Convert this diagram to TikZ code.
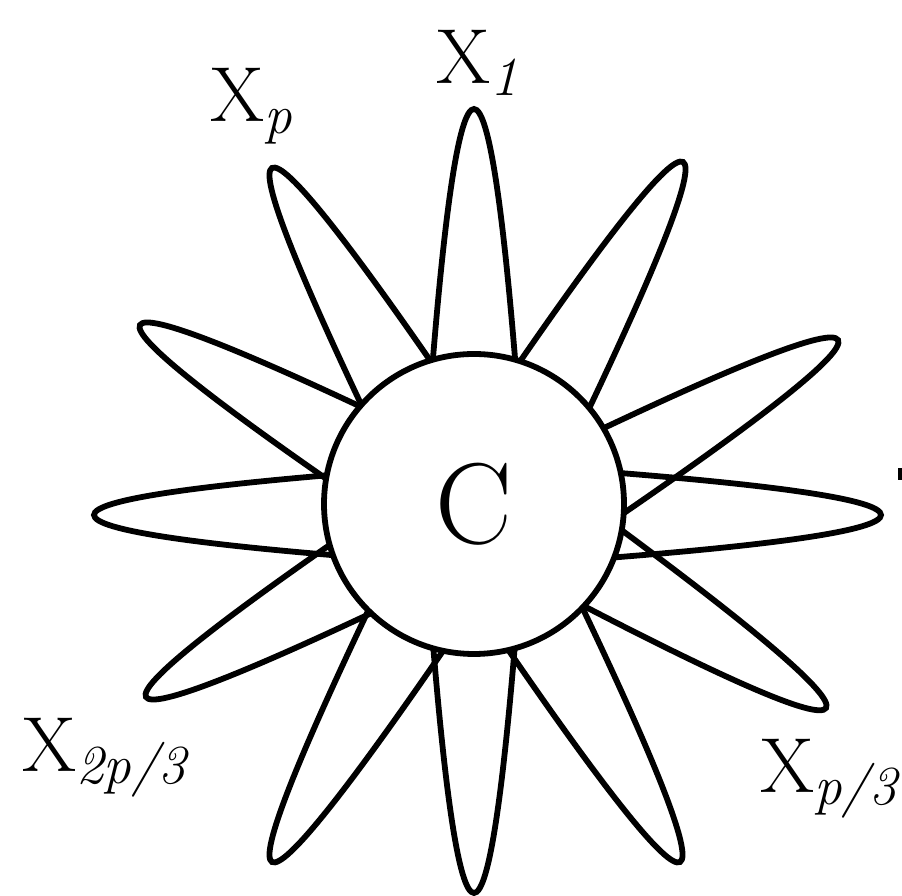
\documentclass[tikz,border=0pt]{standalone}
\usepackage{amsmath}
\usepackage{xcolor}
\usepackage{tikz}

\newcommand{\lsub}[1]{\raisebox{-12pt}{\fontsize{55}{60}\selectfont\itshape #1}}
\tikzset{
  petal/.style={line width=5.8pt},
  lab/.style={inner sep=0pt,anchor=base west,font=\fontsize{78}{86}\selectfont},
}

\begin{document}
\begin{tikzpicture}[x=1pt,y=1pt]
      \useasboundingbox (0,0) rectangle (902,896);
      % petals: angle / tip x / tip y
      \foreach \a/\tx/\ty in {90/474/787,60/683/734,30/838/556,0/881/381,-32/826/188,-60/680/34,
                              -90/474/3,-120/272/34,-150/146/199,180/94/381,150/140/571,120/272/728}
        \draw[petal,shift={(\tx,\ty)},rotate=\a] (-300,45) .. controls (-100,30) and (0,15) .. (0,0)
              .. controls (0,-15) and (-100,-30) .. (-300,-45);
      \node[circle,draw,line width=5.8pt,fill=white,minimum size=300pt,inner sep=0pt,
            font=\fontsize{115}{125}\selectfont] (c) at (474,392) {C};
      \node[lab] (x1) at (436,812) {X\lsub{1}};
      \node[lab] (xp) at (210,774) {X\lsub{p}};
      \node[lab] (x2p3) at (22,124) {X\lsub{2p/3}};
      \node[lab] (xp3) at (760,103) {X\lsub{p/3}};
      \fill (898,416) rectangle (902,428);
    \end{tikzpicture}
\end{document}
